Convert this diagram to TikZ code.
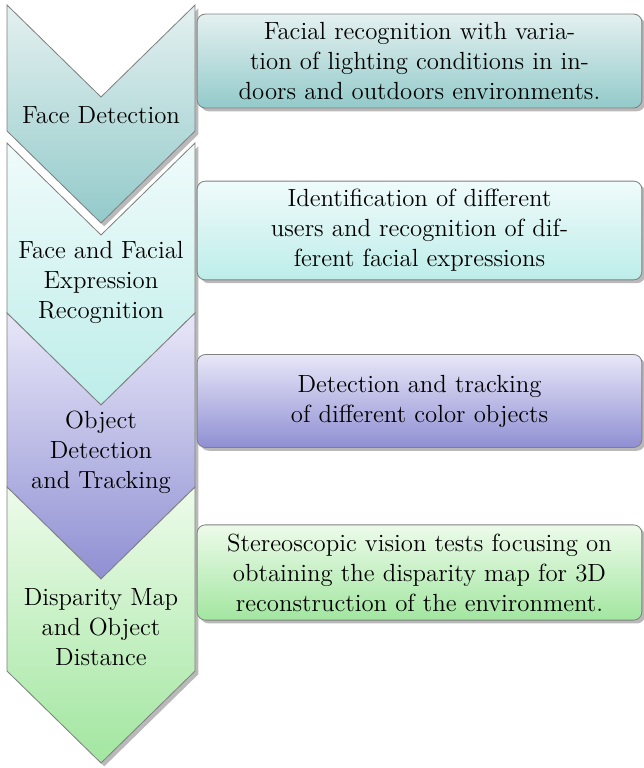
\documentclass[tikz,border=0pt,12pt]{standalone}
\usetikzlibrary{shadows}
\definecolor{tealtop}{HTML}{E4F0F0}
\definecolor{tealbot}{HTML}{93CACA}
\definecolor{cyantop}{HTML}{F0FBFB}
\definecolor{cyanbot}{HTML}{BDEDE9}
\definecolor{lilactop}{HTML}{E8E7F8}
\definecolor{lilacbot}{HTML}{8F8FD3}
\definecolor{greentop}{HTML}{EDFBEA}
\definecolor{greenbot}{HTML}{A2E6A0}
\tikzset{
  every picture/.style={font=\normalsize},
  softshadow/.style={drop shadow={shadow xshift=1.6pt, shadow yshift=-1.6pt,
                                  fill=black!50, opacity=.55}},
  chevron/.style={draw=gray, thin, softshadow},
  chevlabel/.style={align=center},
  descbox/.style={rectangle, rounded corners=4pt, draw=gray, thin, softshadow,
                  minimum width=7.56cm, minimum height=1.58cm, align=center}}

\begin{document}
\begin{tikzpicture}[x=0.017cm, y=-0.017cm]
    \useasboundingbox (0,0) rectangle (644,768);

    % chevrons, top to bottom
    \path [chevron, top color=tealtop, bottom color=tealbot]
      (7,5) -- (101,97) -- (195,5) -- (195,131) -- (101,223) -- (7,131) -- cycle;
    \path [chevron, top color=cyantop, bottom color=cyanbot]
      (7,143) -- (101,235) -- (195,143) -- (195,313) -- (101,405) -- (7,313) -- cycle;
    \path [chevron, top color=lilactop, bottom color=lilacbot]
      (7,313) -- (101,405) -- (195,313) -- (195,487) -- (101,579) -- (7,487) -- cycle;
    \path [chevron, top color=greentop, bottom color=greenbot]
      (7,487) -- (101,579) -- (195,487) -- (195,671) -- (101,763) -- (7,671) -- cycle;

    \node [chevlabel] (detect) at (101,115) {Face Detection};
    \node [chevlabel] (recog) at (101,282) {Face and Facial\\Expression\\Recognition};
    \node [chevlabel] (track) at (101,452) {Object\\Detection\\and Tracking};
    \node [chevlabel] (disp) at (101,627) {Disparity Map\\and Object\\Distance};

    % descriptions
    \node [descbox, top color=tealtop, bottom color=tealbot] (detectbox) at (419.5,61)
    {Facial recognition with varia-\\tion of lighting conditions in in-\\doors and outdoors environments.};
    \node [descbox, top color=cyantop, bottom color=cyanbot, minimum height=1.62cm] (recogbox) at (419.5,230.5)
    {Identification of different\\users and recognition of dif-\\ferent facial expressions};
    \node [descbox, top color=lilactop, bottom color=lilacbot] (trackbox) at (419.5,401)
    {Detection and tracking\\of different color objects};
    \node [descbox, top color=greentop, bottom color=greenbot, minimum height=1.62cm] (dispbox) at (419.5,572.5)
    {Stereoscopic vision tests focusing on\\obtaining the disparity map for 3D\\reconstruction of the environment.};
\end{tikzpicture}
\end{document}
